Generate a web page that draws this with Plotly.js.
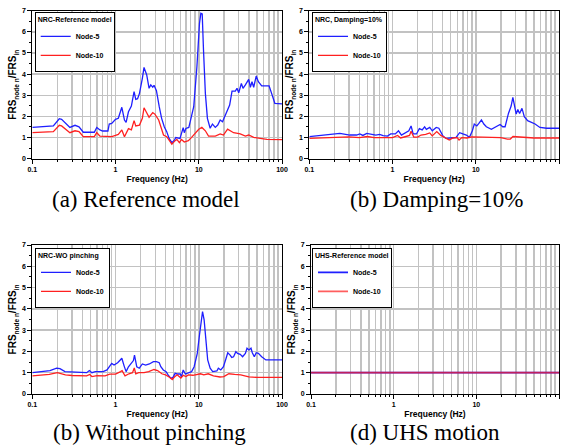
<!DOCTYPE html>
<html>
<head>
<meta charset="utf-8">
<script src="https://cdn.plot.ly/plotly-3.0.1.min.js"></script>
<style>html,body{margin:0;padding:0;background:#fff;}#chart{width:561px;height:445px;}</style>
</head>
<body>
<div id="chart"></div>
<script>
// ---------- DATA ----------
var seriesNames = ['Node-5', 'Node-10'];
var panelLegendTitles = ['NRC-Reference model', 'NRC, Damping=10%', 'NRC-WO pinching', 'UHS-Reference model'];
var panelCaptions = ['(a) Reference model', '(b) Damping=10%', '(b) Without pinching', '(d) UHS motion'];
var xTickVals = [0.1, 1, 10, 100];
var xTickText = ['0.1', '1', '10', '100'];
var xMinorVals = [0.2,0.3,0.4,0.5,0.6,0.7,0.8,0.9,2,3,4,5,6,7,8,9,20,30,40,50,60,70,80,90];
var yTickVals = [0,1,2,3,4,5,6,7];

// (a) Reference model
var aFreq5 = [0.1,0.179,0.211,0.225,0.283,0.326,0.364,0.41,0.556,0.595,0.65,0.70,0.81,0.84,0.90,1.0,1.08,1.19,1.28,1.34,1.43,1.55,1.67,1.75,1.84,1.94,2.1,2.2,2.37,2.53,2.65,2.8,2.9,3.1,3.35,3.58,3.85,4.12,4.4,4.75,5.1,5.3,5.95,6.5,6.7,7.0,7.6,8.1,8.7,9.5,10.2,10.6,11.0,11.4,12.0,12.7,13.7,14.6,15.8,16.9,18.1,19.3,20.8,22.2,23.5,25.1,27.5,28.8,30.2,32.5,34.0,36.3,39.8,41.7,43.6,45.7,49,52,57,62.5,70,75,82,100];
var aNode5 = [1.48,1.55,1.89,1.86,1.48,1.58,1.51,1.25,1.25,1.48,1.36,1.31,1.31,1.64,1.67,1.86,1.91,2.43,1.83,1.72,2.22,2.49,3.17,2.81,2.84,3.09,3.80,4.32,3.96,3.33,3.49,3.38,3.47,3.22,2.46,1.91,1.51,1.28,0.96,0.76,0.88,1.0,0.96,1.47,1.23,1.43,1.48,1.99,2.46,4.35,6.40,6.88,6.85,5.14,3.09,1.91,1.44,1.64,1.48,1.59,1.83,1.75,2.07,2.30,2.54,3.20,3.20,3.33,3.12,3.56,3.33,3.49,3.75,3.38,3.64,3.38,3.91,3.64,3.44,3.44,3.44,3.09,2.62,2.59];
var aFreq10 = [0.1,0.179,0.211,0.225,0.283,0.326,0.364,0.41,0.556,0.595,0.65,0.9,1.0,1.08,1.19,1.28,1.43,1.55,1.67,1.75,1.94,2.1,2.2,2.37,2.53,2.8,2.97,3.3,3.53,3.77,4.12,4.4,4.75,5.1,5.45,5.85,6.2,6.7,7.5,8.2,9.0,10.0,10.9,12.0,13.1,15.8,18.1,19.8,22.2,23.9,26.2,31.5,36.3,39.8,45.7,54.6,66,100];
var aNode10 = [1.23,1.28,1.58,1.55,1.23,1.32,1.28,1.04,1.04,1.23,1.07,1.04,1.10,1.15,1.36,1.04,1.42,1.36,1.80,1.55,1.59,1.91,2.41,2.14,1.96,2.18,2.11,1.83,1.44,1.12,1.04,0.85,0.69,0.82,0.91,0.76,0.91,0.79,0.85,1.01,1.20,1.39,1.48,1.32,1.07,1.07,1.17,1.12,1.40,1.31,1.23,1.17,1.07,1.12,1.01,0.96,0.91,0.90];

// (b) Damping = 10%
var bFreq5 = [0.1,0.177,0.233,0.307,0.37,0.405,0.44,0.49,0.56,0.63,0.70,0.77,0.87,0.95,1.08,1.18,1.28,1.44,1.57,1.67,1.77,1.94,2.1,2.27,2.43,2.55,2.8,3.0,3.35,3.6,4.04,4.4,4.8,5.3,5.8,6.4,7.0,7.7,8.4,9.1,9.6,10.3,10.9,11.7,12.5,13.4,15.4,17.8,19.6,21.1,22.5,24.7,26.6,27.9,29.2,30.6,32.0,33.6,35.9,38.3,42.0,47.0,51.6,59,71,100];
var bNode5 = [1.04,1.17,1.20,1.12,1.12,1.17,1.10,1.20,1.14,1.12,1.15,1.09,1.07,1.17,1.17,1.32,1.12,1.23,1.32,1.55,1.17,1.17,1.42,1.36,1.51,1.39,1.48,1.32,1.48,1.44,1.07,0.96,0.96,0.99,1.01,1.23,1.17,1.12,1.01,1.32,1.64,1.55,1.67,1.83,1.64,1.51,1.39,1.51,1.62,1.51,1.51,2.14,2.49,2.90,2.49,2.11,2.33,2.14,2.38,1.99,1.80,1.70,1.64,1.48,1.44,1.44];
var bFreq10 = [0.1,0.2,0.3,0.4,0.5,0.6,0.8,1.0,1.15,1.25,1.45,1.6,1.67,1.8,2.0,2.2,2.5,2.8,3.0,3.4,3.8,4.4,4.8,5.3,6.0,6.3,6.8,7.8,9,12,20,24,26,28,35,40,50,100];
var bNode10 = [0.96,1.02,1.03,1.0,1.05,1.0,1.0,1.0,1.1,0.98,1.05,1.1,1.3,1.02,1.02,1.12,1.15,1.22,1.08,1.28,1.1,0.95,0.88,0.98,1.0,0.88,1.0,0.98,1.03,1.02,1.0,0.93,0.93,1.05,1.03,1.02,0.98,0.98];

// (c) Without pinching
var cFreq5 = [0.1,0.163,0.196,0.215,0.247,0.45,0.485,0.52,0.57,0.71,0.79,0.85,0.90,0.96,1.06,1.14,1.19,1.27,1.34,1.43,1.53,1.64,1.69,1.8,1.93,2.1,2.3,2.55,2.85,3.1,3.35,3.5,3.75,4.05,4.3,4.6,4.9,5.2,5.5,6.0,6.2,6.5,6.9,7.5,8.2,8.8,9.6,10.2,10.8,11.1,11.6,12.3,12.8,13.7,14.7,16.5,17.2,18.4,19.8,21.3,22.3,23.8,24.9,26.2,27.9,29.2,31.5,33.6,36.3,38.0,40.0,42.4,44,46.5,49,52,57,64,100];
var cNode5 = [1.0,1.10,1.21,1.19,1.05,1.0,1.10,1.0,1.05,1.05,1.13,1.28,1.44,1.36,1.47,1.60,1.68,1.31,1.05,1.28,1.44,1.57,1.83,1.28,1.21,1.41,1.36,1.41,1.52,1.52,1.47,1.28,1.13,1.05,0.89,0.74,0.78,0.97,0.94,0.94,0.81,1.13,0.94,1.0,1.05,1.28,1.91,2.77,3.63,3.87,3.48,2.38,1.60,1.21,1.05,1.08,1.21,1.13,1.28,1.68,1.94,1.83,1.72,1.75,1.99,1.91,1.86,1.75,1.91,2.15,2.07,2.15,1.94,1.75,1.94,1.91,1.75,1.60,1.60];
var cFreq10 = [0.1,0.16,0.2,0.25,0.3,0.45,0.49,0.52,0.6,0.75,0.85,1.0,1.15,1.2,1.3,1.45,1.6,1.68,1.75,1.9,2.2,2.5,2.9,3.2,3.6,4.0,4.5,4.8,5.1,5.5,6.1,6.5,7.0,7.5,8.5,9.5,10.5,11.5,13,15,18,20,23,27,32,40,50,100];
var cNode10 = [0.85,0.92,1.0,0.9,0.87,0.85,0.92,0.82,0.86,0.85,0.93,0.93,1.05,1.1,0.85,0.95,1.0,1.22,0.95,1.0,1.0,1.05,1.15,1.1,0.95,0.9,0.78,0.68,0.8,0.9,0.75,0.88,0.82,0.9,0.88,0.92,0.95,0.9,0.95,0.85,0.8,0.82,0.95,0.92,0.9,0.8,0.78,0.78];

// (d) UHS motion
var dFreq5 = [0.1, 100];
var dNode5 = [1, 1];
var dFreq10 = [0.1, 100];
var dNode10 = [1, 1];

// ---------- BUILD ----------
var colors = ['#1f1fff', '#ff2020'];
var panels = [
  {f5: aFreq5, v5: aNode5, f10: aFreq10, v10: aNode10, redOpacity: 1},
  {f5: bFreq5, v5: bNode5, f10: bFreq10, v10: bNode10, redOpacity: 1},
  {f5: cFreq5, v5: cNode5, f10: cFreq10, v10: cNode10, redOpacity: 1},
  {f5: dFreq5, v5: dNode5, f10: dFreq10, v10: dNode10, redOpacity: 0.72}
];
var W = 561, H = 445;
// pixel boxes [left, right, top, bottom]
var boxes = [[32.3, 282, 10.7, 158.7], [309.3, 559, 10.7, 158.7], [32.3, 282, 245, 394], [311, 559, 245, 394]];
var legendPos = [[34.7, 11.7], [312, 11.7], [35, 247.7], [312, 247.7]];
var captionPos = [[146, 199], [436, 199], [149, 432], [425, 432]];

var FONT = 'Liberation Sans, Arial, sans-serif';
var SUB = '<span style="font-size:6.5px;baseline-shift:-2.5px">';
var yTitle = 'FRS' + SUB + 'node n</span>/FRS' + SUB + 'in</span>';
var traces = [];
var layout = {
  width: W, height: H,
  margin: {l: 0, r: 0, t: 0, b: 0},
  paper_bgcolor: '#fff', plot_bgcolor: '#fff',
  font: {family: FONT, color: '#000'},
  annotations: []
};

panels.forEach(function (p, i) {
  var sfx = i === 0 ? '' : String(i + 1);
  var legName = 'legend' + sfx;
  var xs = [[p.f5, p.v5, 1], [p.f10, p.v10, p.redOpacity]];
  xs.forEach(function (s, k) {
    traces.push({
      type: 'scatter', mode: 'lines',
      x: s[0], y: s[1],
      name: seriesNames[k],
      line: {color: colors[k], width: (i === 3 ? 1.8 : 1.3)},
      opacity: s[2],
      xaxis: 'x' + sfx, yaxis: 'y' + sfx,
      legend: legName
    });
  });
  var b = boxes[i];
  layout['xaxis' + sfx] = {
    type: 'log', range: [-1, 2],
    domain: [b[0] / W, b[1] / W],
    anchor: 'y' + sfx,
    tickmode: 'array', tickvals: xTickVals, ticktext: xTickText,
    ticks: 'outside', ticklen: 4, tickwidth: 1, tickcolor: '#000',
    tickfont: {family: FONT, size: 7, weight: 'bold', color: '#000'},
    showgrid: true, gridcolor: '#c2c2c2', gridwidth: 1.5,
    minor: {tickmode: 'array', tickvals: xMinorVals, ticks: 'outside', ticklen: 2, tickcolor: '#000',
            showgrid: true, gridcolor: '#c2c2c2', gridwidth: 1.5},
    showline: true, linecolor: '#000', linewidth: 1, mirror: true,
    zeroline: false,
    title: {text: 'Frequency (Hz)', font: {family: FONT, size: 8.5, weight: 'bold'}, standoff: 3}
  };
  layout['yaxis' + sfx] = {
    range: [0, 7],
    domain: [1 - b[3] / H, 1 - b[2] / H],
    anchor: 'x' + sfx,
    tickmode: 'array', tickvals: yTickVals,
    ticks: 'outside', ticklen: 4, tickwidth: 1, tickcolor: '#000',
    tickfont: {family: FONT, size: 7, weight: 'bold', color: '#000'},
    showgrid: true, gridcolor: '#c2c2c2', gridwidth: 1.5,
    minor: {dtick: 0.5, ticks: 'outside', ticklen: 2, tickcolor: '#000', showgrid: false},
    showline: true, linecolor: '#000', linewidth: 1, mirror: true,
    zeroline: false,
    title: {text: yTitle, font: {family: FONT, size: 10, weight: 'bold'}, standoff: 3}
  };
  var lp = legendPos[i];
  layout[legName] = {
    x: lp[0] / W, y: 1 - lp[1] / H, xanchor: 'left', yanchor: 'top',
    xref: 'paper', yref: 'paper',
    bgcolor: '#fff', bordercolor: '#000', borderwidth: 1,
    font: {family: FONT, size: 7, weight: 'bold', color: '#000'},
    title: {text: panelLegendTitles[i], font: {family: FONT, size: 7, weight: 'bold'}},
    tracegroupgap: 0, itemwidth: 30
  };
  var cp = captionPos[i];
  layout.annotations.push({
    text: panelCaptions[i], xref: 'paper', yref: 'paper',
    x: cp[0] / W, y: 1 - cp[1] / H, xanchor: 'center', yanchor: 'middle',
    showarrow: false,
    font: {family: 'Liberation Serif, Times New Roman, serif', size: 23, color: '#000'}
  });
});

Plotly.newPlot('chart', traces, layout, {displayModeBar: false, staticPlot: true});
</script>
</body>
</html>
